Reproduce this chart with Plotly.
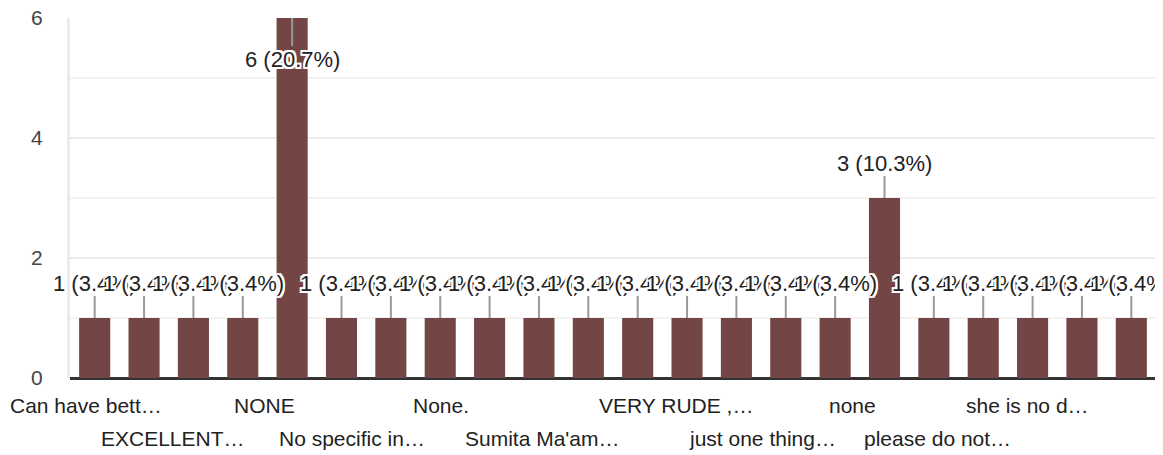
import plotly.graph_objects as go

# ---- data ----
categories = ["Can have bett…", "", "EXCELLENT…", "", "NONE", "", "No specific in…", "",
              "None.", "", "Sumita Ma'am…", "", "VERY RUDE ,…", "", "just one thing…", "",
              "none", "", "please do not…", "", "she is no d…", ""]
counts = [1, 1, 1, 1, 6, 1, 1, 1, 1, 1, 1, 1, 1, 1, 1, 1, 3, 1, 1, 1, 1, 1]
y_ticks = [0, 2, 4, 6]

total = sum(counts)
xs = list(range(len(counts)))

BAR = "#744545"
TXT = "#222222"
FONT = "Liberation Sans, Arial, sans-serif"
HALO = ("2px 0 0 #fff, -2px 0 0 #fff, 0 2px 0 #fff, 0 -2px 0 #fff, "
        "2px 2px 0 #fff, -2px -2px 0 #fff, 2px -2px 0 #fff, -2px 2px 0 #fff")

fig = go.Figure()
fig.add_trace(go.Bar(x=xs, y=counts, marker=dict(color=BAR, line=dict(width=0)),
                     hoverinfo="skip"))

ymax = max(y_ticks)
annotations = []
for x, v in zip(xs, counts):
    label = f"{v} ({v / total * 100:.1f}%)"
    ay = 41 if v >= ymax else -35
    annotations.append(dict(
        x=x, y=v, xref="x", yref="y", text=label, showarrow=True,
        arrowhead=0, arrowwidth=2, arrowcolor="#999999", ax=0, ay=ay,
        font=dict(size=22, color=TXT, family=FONT, shadow=HALO),
        standoff=0, borderpad=0,
    ))

# category labels (every other, staggered in two rows)
label_shift = {0: -9, 2: -20, 4: -28, 6: -39, 8: -49, 10: -46,
               12: -11, 14: -23, 16: -32, 18: -46, 20: -54}
row = 0
for i, name in enumerate(categories):
    if not name:
        continue
    annotations.append(dict(
        x=i, y=0, xref="x", yref="paper", text=name, showarrow=False,
        xanchor="center", yanchor="middle", xshift=label_shift.get(i, 0),
        yshift=-27 if row % 2 == 0 else -60,
        font=dict(size=21, color=TXT, family=FONT),
    ))
    row += 1

fig.update_layout(
    width=1155, height=447,
    margin=dict(l=62, r=7, t=10, b=77, autoexpand=False),
    paper_bgcolor="white", plot_bgcolor="white",
    bargap=0.37, showlegend=False,
    font=dict(family=FONT, size=21, color="#444444"),
    annotations=annotations,
)
fig.update_xaxes(range=[-0.5, len(counts) - 0.5], showticklabels=False, automargin=False,
                 showgrid=False, zeroline=False, showline=False, ticks="")
fig.update_yaxes(range=[0, ymax + 1e-4], tickvals=y_ticks, ticktext=[str(t) for t in y_ticks],
                 ticklabeloverflow="allow", automargin=False,
                 showgrid=True, gridcolor="#ebebeb", gridwidth=2,
                 minor=dict(dtick=1, showgrid=True, gridcolor="#f2f2f2", gridwidth=2),
                 zeroline=True, zerolinecolor="#333333", zerolinewidth=3,
                 showline=True, linecolor="#ebebeb", linewidth=3,
                 ticks="outside", ticklen=20, tickcolor="rgba(0,0,0,0)",
                 tickfont=dict(size=21, color="#444444", family=FONT))

fig.write_html("out.html")
